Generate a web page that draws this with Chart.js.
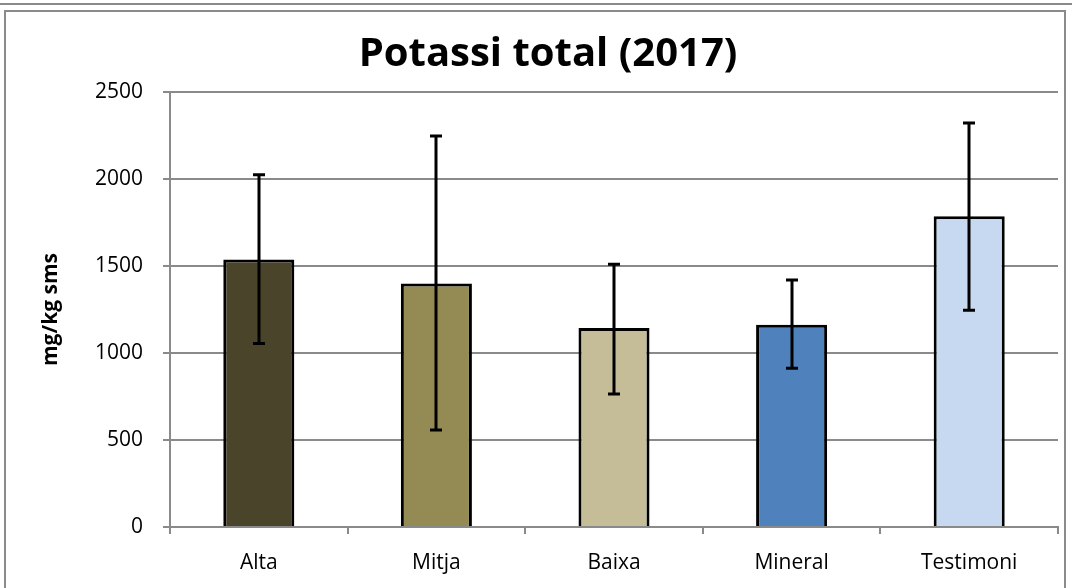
<!DOCTYPE html>
<html>
<head>
<meta charset="utf-8">
<script src="https://cdn.jsdelivr.net/npm/chart.js@4.4.1/dist/chart.umd.min.js"></script>
<style>
  body { margin: 0; background: #fff; }
  #wrap { position: relative; width: 1072px; height: 588px; overflow: hidden; }
  #topline { position: absolute; left: 0; top: 3px; width: 1072px; height: 0; border-top: 2px solid #8a8a8a; }
  #frame { position: absolute; left: 4px; top: 10px; width: 1062px; height: 600px; border: 2px solid #8a8a8a; box-sizing: border-box; }
  canvas { position: absolute; left: 0; top: 0; }
</style>
</head>
<body>
<div id="wrap">
  <div id="topline"></div>
  <div id="frame"></div>
  <canvas id="grafic" width="1072" height="588"></canvas>
</div>
<script>
// dades llegides del gràfic
const categories = ['Alta', 'Mitja', 'Baixa', 'Mineral', 'Testimoni'];
const mitjanes = [1538, 1400, 1144, 1163, 1786];
const errorMin = [1054, 557, 764, 912, 1245];
const errorMax = [2025, 2247, 1510, 1420, 2322];
const colors = ['#4a452a', '#948a54', '#c4bd97', '#4f81bd', '#c6d9f1'];
const yTicks = [0, 500, 1000, 1500, 2000, 2500];

// barres d'error dibuixades amb les escales del gràfic
const barresError = {
  id: 'barresError',
  afterDatasetsDraw(chart) {
    const ctx = chart.ctx;
    const x = chart.scales.x, y = chart.scales.y;
    ctx.save();
    ctx.strokeStyle = '#000';
    ctx.lineWidth = 3;
    for (let i = 0; i < categories.length; i++) {
      const px = Math.round(x.getPixelForValue(i));
      const top = y.getPixelForValue(errorMax[i]);
      const bot = y.getPixelForValue(errorMin[i]);
      ctx.beginPath();
      ctx.moveTo(px, top); ctx.lineTo(px, bot);
      ctx.moveTo(px - 6, top); ctx.lineTo(px + 6, top);
      ctx.moveTo(px - 6, bot); ctx.lineTo(px + 6, bot);
      ctx.stroke();
    }
    ctx.restore();
  }
};

const ctx = document.getElementById('grafic').getContext('2d');
new Chart(ctx, {
  type: 'bar',
  data: {
    labels: categories,
    datasets: [{
      data: mitjanes,
      backgroundColor: colors,
      borderColor: '#000',
      borderWidth: 3,
      barPercentage: 0.4,
      categoryPercentage: 1
    }]
  },
  options: {
    responsive: false,
    animation: false,
    layout: { padding: { left: 38, right: 14, top: 0, bottom: 0 } },
    plugins: {
      legend: { display: false },
      tooltip: { enabled: false },
      title: {
        display: true,
        text: 'Potassi total (2017)',
        color: '#000',
        font: { family: "'Open Sans', sans-serif", size: 40, weight: 'bold', lineHeight: 1.1 },
        padding: { top: 33, bottom: 15 }
      }
    },
    scales: {
      x: {
        grid: { drawOnChartArea: false, color: '#8a8a8a', lineWidth: 2, tickLength: 7, offset: true },
        border: { color: '#8a8a8a', width: 2 },
        ticks: { color: '#000', padding: 16, font: { family: "'Open Sans', sans-serif", size: 21 } },
        afterFit(s) { s.height = 61; }
      },
      y: {
        min: 0, max: 2500,
        afterBuildTicks(s) { s.ticks = yTicks.map(v => ({ value: v })); },
        grid: { color: '#8a8a8a', lineWidth: 2, tickLength: 7 },
        border: { color: '#8a8a8a', width: 2 },
        ticks: {
          color: '#000', padding: 20,
          font: { family: "'Open Sans', sans-serif", size: 21 },
          callback: v => String(v)
        },
        title: {
          display: true,
          text: 'mg/kg sms',
          color: '#000',
          font: { family: "'Open Sans', sans-serif", size: 21, weight: 'bold' },
          padding: { top: 0, bottom: 6 }
        },
        afterFit(s) { s.width = 132; }
      }
    }
  },
  plugins: [barresError]
});
</script>
</body>
</html>
